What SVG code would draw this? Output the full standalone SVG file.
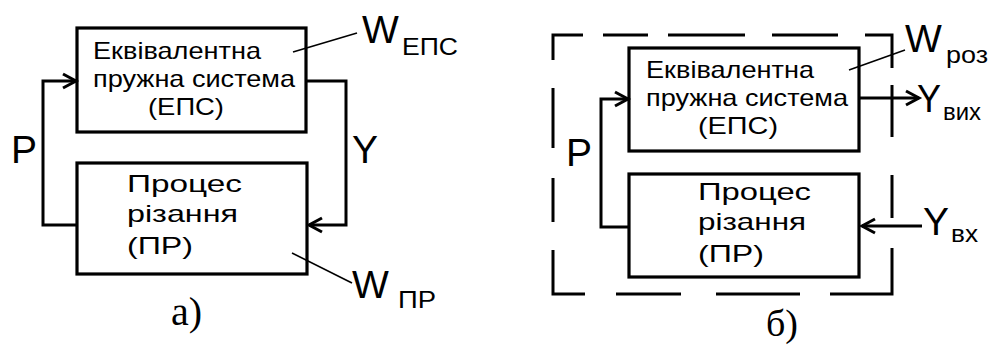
<svg xmlns="http://www.w3.org/2000/svg" width="992" height="347" viewBox="0 0 992 347">
<style>
.box{fill:none;stroke:#000;stroke-width:3.2}
.ln{fill:none;stroke:#000;stroke-width:3}
.ah{fill:none;stroke:#000;stroke-width:3;stroke-linejoin:miter}
.ld{fill:none;stroke:#000;stroke-width:1.6}
.dash{fill:none;stroke:#000;stroke-width:3}
.t{font-family:"Liberation Sans",Arial,sans-serif;font-size:24px;fill:#000}
.big{font-family:"Liberation Sans",Arial,sans-serif;font-size:39px;fill:#000}
.sub{font-family:"Liberation Sans",Arial,sans-serif;font-size:24px;fill:#000}
.cap{font-family:"Liberation Serif","Times New Roman",serif;font-size:40px;fill:#000}
</style>
<rect width="992" height="347" fill="#fff"/>
<!-- Panel a -->
<g id="a-eps">
<rect class="box" x="77" y="28" width="229" height="104"/>
<text class="t" x="93" y="59" textLength="168" lengthAdjust="spacingAndGlyphs">Еквівалентна</text>
<text class="t" x="93" y="87" textLength="202" lengthAdjust="spacingAndGlyphs">пружна система</text>
<text class="t" x="148" y="115" textLength="76" lengthAdjust="spacingAndGlyphs">(ЕПС)</text>
</g>
<g id="a-pr">
<rect class="box" x="77" y="163" width="230" height="111"/>
<text class="t" x="127" y="192" textLength="115" lengthAdjust="spacingAndGlyphs">Процес</text>
<text class="t" x="127" y="222" textLength="111" lengthAdjust="spacingAndGlyphs">різання</text>
<text class="t" x="127" y="254" textLength="66" lengthAdjust="spacingAndGlyphs">(ПР)</text>
</g>
<g id="a-connectors">
<polyline class="ln" points="77,225 43,225 43,81 76,81"/>
<polyline class="ah" points="63,74 76,81 63,88"/>
<polyline class="ln" points="306,81 346,81 346,225 309,225"/>
<polyline class="ah" points="322,218 309,225 322,232"/>
<line class="ld" x1="293" y1="52" x2="357" y2="33"/>
<line class="ld" x1="292" y1="253" x2="352" y2="283"/>
</g>
<g id="a-labels">
<text class="big" x="11" y="163">P</text>
<text class="big" x="352" y="163">Y</text>
<text class="big" x="362" y="43">W</text>
<text class="sub" x="402" y="55" textLength="56" lengthAdjust="spacingAndGlyphs">ЕПС</text>
<text class="big" x="352" y="298">W</text>
<text class="sub" x="398" y="308" textLength="38" lengthAdjust="spacingAndGlyphs">ПР</text>
<text class="cap" x="171" y="325">а)</text>
</g>
<!-- Panel b -->
<g id="b-frame">
<path class="dash" d="M553,60 V35 H583 M603,35 H648 M668,35 H745 M772,35 H838 M865,35 H892 V68 M892,85 V137 M892,175 V218 M892,248 V294 H830 M800,294 H716 M681,294 H616 M585,294 H553 V250 M553,222 V178 M553,148 V88"/>
</g>
<g id="b-eps">
<rect class="box" x="629" y="48" width="230" height="103"/>
<text class="t" x="646" y="78" textLength="168" lengthAdjust="spacingAndGlyphs">Еквівалентна</text>
<text class="t" x="646" y="106" textLength="202" lengthAdjust="spacingAndGlyphs">пружна система</text>
<text class="t" x="698" y="134" textLength="80" lengthAdjust="spacingAndGlyphs">(ЕПС)</text>
</g>
<g id="b-pr">
<rect class="box" x="629" y="174" width="230" height="103"/>
<text class="t" x="698" y="200" textLength="113" lengthAdjust="spacingAndGlyphs">Процес</text>
<text class="t" x="698" y="230" textLength="108" lengthAdjust="spacingAndGlyphs">різання</text>
<text class="t" x="698" y="262" textLength="66" lengthAdjust="spacingAndGlyphs">(ПР)</text>
</g>
<g id="b-connectors">
<polyline class="ln" points="629,227 601,227 601,99 628,99"/>
<polyline class="ah" points="615,92 628,99 615,106"/>
<line class="ln" x1="859" y1="98" x2="919" y2="98"/>
<polyline class="ah" points="906,91 919,98 906,105"/>
<line class="ln" x1="922" y1="226" x2="862" y2="226"/>
<polyline class="ah" points="875,219 862,226 875,233"/>
<line class="ld" x1="849" y1="70" x2="905" y2="50"/>
</g>
<g id="b-labels">
<text class="big" x="566" y="166">P</text>
<text class="big" x="905" y="52">W</text>
<text class="sub" x="946" y="63" textLength="42" lengthAdjust="spacingAndGlyphs">роз</text>
<text class="big" x="917" y="112" textLength="24" lengthAdjust="spacingAndGlyphs">Y</text>
<text class="sub" x="943" y="120" textLength="38" lengthAdjust="spacingAndGlyphs">вих</text>
<text class="big" x="923" y="235">Y</text>
<text class="sub" x="951" y="242" textLength="27" lengthAdjust="spacingAndGlyphs">вх</text>
<text class="cap" x="766" y="336" style="font-size:38px">б)</text>
</g>
</svg>
